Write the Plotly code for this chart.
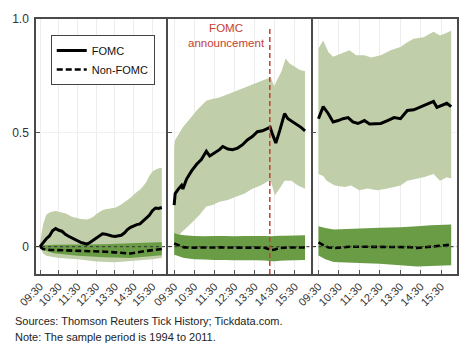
import pandas as pd
import plotly.graph_objects as go

# ---------------- data ----------------
GRID = ["09:30","09:40","09:50","10:00","10:10","10:20","10:30","10:40","10:50","11:00",
        "11:10","11:20","11:30","11:40","11:50","12:00","12:10","12:20","12:30","12:40",
        "12:50","13:00","13:10","13:20","13:30","13:40","13:50","14:00","14:10","14:20",
        "14:30","14:40","14:50","15:00","15:10","15:20","15:30","15:40","15:50","16:00"]
TICKS = ["09:30","10:30","11:30","12:30","13:30","14:30","15:30"]

# Panel 1 (day before)
p1_fomc_mean = [0.000,0.020,0.035,0.047,0.070,0.080,0.072,0.068,0.055,0.047,
                0.040,0.033,0.025,0.019,0.015,0.011,0.018,0.028,0.038,0.050,
                0.057,0.055,0.050,0.047,0.045,0.048,0.050,0.060,0.075,0.085,
                0.092,0.097,0.100,0.112,0.125,0.138,0.158,0.170,0.168,0.172]
p1_fomc_hi = [0.020,0.100,0.140,0.150,0.155,0.157,0.153,0.150,0.147,0.140,
              0.133,0.128,0.126,0.122,0.120,0.119,0.124,0.132,0.142,0.152,
              0.160,0.164,0.167,0.169,0.171,0.178,0.185,0.195,0.205,0.215,
              0.228,0.240,0.250,0.265,0.283,0.310,0.330,0.338,0.345,0.347]
p1_fomc_lo_t = ["09:30","09:40","09:50","10:30","11:30","12:30","13:30","14:30","15:30","16:00"]
p1_fomc_lo = [0.000,-0.030,-0.040,-0.050,-0.055,-0.065,-0.068,-0.062,-0.055,-0.050]
p1_non_t = ["09:30","09:40","10:00","10:30","11:00","11:30","12:00","12:30","13:00","13:30",
            "14:00","14:20","14:40","15:00","15:30","16:00"]
p1_non_mean = [0.000,-0.010,-0.014,-0.015,-0.018,-0.020,-0.020,-0.022,-0.022,-0.025,
               -0.028,-0.030,-0.025,-0.020,-0.015,-0.010]
p1_non_band_t = ["09:30","10:15","11:30","12:55","14:20","15:50","16:00"]
p1_non_hi = [0.005,0.008,0.010,0.011,0.015,0.019,0.019]
p1_non_lo = [-0.010,-0.029,-0.040,-0.046,-0.050,-0.039,-0.038]

# Panel 2 (announcement day)
p2_fomc_t = ["09:30","09:33","09:43","09:52","09:56","10:07","10:22","10:37","10:51","11:06",
             "11:16","11:31","11:45","11:55","12:10","12:24","12:39","12:54","13:08","13:23",
             "13:38","13:53","14:07","14:16","14:24","14:33","14:45","14:59","15:09","15:24",
             "15:38","15:48","16:00"]
p2_fomc_mean = [0.183,0.233,0.254,0.269,0.254,0.297,0.333,0.362,0.383,0.419,
                0.398,0.412,0.426,0.440,0.429,0.426,0.433,0.448,0.469,0.484,
                0.505,0.509,0.519,0.524,0.490,0.455,0.512,0.584,0.562,0.548,
                0.534,0.524,0.509]
p2_hi_t = ["09:30","09:33","09:57","10:17","10:37","10:56","11:06","11:20","11:45","12:10",
           "12:34","12:59","13:23","13:48","14:12","14:18","14:28","14:36","14:50","15:02",
           "15:14","15:29","15:43","16:00"]
p2_fomc_hi = [0.440,0.469,0.527,0.562,0.598,0.627,0.641,0.648,0.655,0.670,
              0.684,0.698,0.712,0.727,0.741,0.744,0.705,0.730,0.770,0.827,
              0.805,0.791,0.777,0.770]
p2_lo_t = ["09:30","09:50","10:07","10:27","10:46","11:06","11:25","11:45","12:10","12:34",
           "12:59","13:23","13:48","14:12","14:19","14:30","14:44","14:59","15:19","15:39","16:00"]
p2_fomc_lo = [0.020,0.060,0.083,0.112,0.140,0.176,0.183,0.197,0.205,0.219,
              0.233,0.254,0.269,0.290,0.283,0.226,0.254,0.290,0.290,0.269,0.254]
p2_non_t = ["09:30","09:40","09:50","10:00","10:30","11:00","11:30","12:00","12:30","13:00",
            "13:30","14:00","14:20","14:30","14:45","15:00","15:30","16:00"]
p2_non_mean = [0.014,0.008,0.000,-0.003,-0.004,-0.003,-0.004,-0.003,-0.004,-0.003,
               -0.004,-0.005,-0.015,-0.012,-0.006,-0.004,-0.003,-0.003]
p2_non_hi = [0.060,0.055,0.052,0.050,0.047,0.046,0.047,0.047,0.046,0.047,
             0.047,0.047,0.046,0.047,0.048,0.048,0.049,0.050]
p2_non_lo = [-0.035,-0.040,-0.045,-0.050,-0.055,-0.056,-0.058,-0.059,-0.060,-0.060,
             -0.060,-0.061,-0.064,-0.064,-0.062,-0.061,-0.060,-0.058]

# Panel 3 (day after)
p3_fomc_t = ["09:30","09:44","09:59","10:13","10:28","10:42","10:57","11:11","11:26","11:45",
             "12:00","12:14","12:33","12:53","13:12","13:31","13:51","14:10","14:29","14:49",
             "15:08","15:18","15:32","15:47","16:00"]
p3_fomc_mean = [0.562,0.615,0.584,0.548,0.554,0.562,0.567,0.548,0.541,0.554,
                0.539,0.539,0.541,0.554,0.567,0.562,0.598,0.601,0.612,0.627,
                0.638,0.612,0.620,0.630,0.615]
p3_hi_t = ["09:30","09:44","09:59","10:13","10:37","11:01","11:21","11:45","12:05","12:33",
           "13:02","13:31","13:51","14:10","14:39","15:08","15:27","15:47","16:00"]
p3_fomc_hi = [0.870,0.906,0.855,0.834,0.848,0.863,0.841,0.841,0.831,0.841,
              0.863,0.877,0.898,0.913,0.920,0.944,0.927,0.940,0.948]
p3_lo_t = ["09:30","09:44","09:54","10:18","10:47","11:06","11:30","11:54","12:23","12:53",
           "13:12","13:31","13:51","14:15","14:39","15:08","15:27","15:47","16:00"]
p3_fomc_lo = [0.319,0.310,0.290,0.269,0.262,0.269,0.248,0.255,0.248,0.255,
              0.262,0.269,0.290,0.297,0.305,0.319,0.290,0.305,0.300]
p3_non_t = ["09:30","09:40","10:00","10:20","11:00","12:00","13:00","14:00","14:20","15:00",
            "15:30","16:00"]
p3_non_mean = [0.019,0.010,-0.004,-0.006,0.000,0.000,-0.001,-0.002,-0.006,-0.001,0.002,0.009]
p3_non_band_t = ["09:30","09:50","10:15","11:30","12:30","13:30","14:20","15:00","16:00"]
p3_non_hi = [0.090,0.082,0.076,0.080,0.083,0.085,0.090,0.094,0.097]
p3_non_lo = [-0.039,-0.055,-0.067,-0.072,-0.075,-0.082,-0.087,-0.085,-0.082]

# ---------------- styling ----------------
LIGHT = "rgb(192,207,169)"
DARK = "rgb(106,156,70)"
RED = "rgb(196,62,52)"
FRAME = "#4a4a4a"
FONT = "Arial, Liberation Sans, sans-serif"


def ts(lst):
    return pd.to_datetime(["2000-01-01 " + t for t in lst])


def band(t_hi, hi, t_lo, lo, color, xa, ya):
    x = list(ts(t_hi)) + list(ts(t_lo))[::-1]
    y = list(hi) + list(lo)[::-1]
    return go.Scatter(x=x, y=y, fill="toself", fillcolor=color, mode="none",
                      line=dict(width=0), showlegend=False, hoverinfo="skip",
                      xaxis=xa, yaxis=ya)


fig = go.Figure()

panels = [
    dict(xa="x", ya="y",
         fb=(GRID, p1_fomc_hi, p1_fomc_lo_t, p1_fomc_lo),
         nb=(p1_non_band_t, p1_non_hi, p1_non_band_t, p1_non_lo),
         fm=(GRID, p1_fomc_mean), nm=(p1_non_t, p1_non_mean)),
    dict(xa="x2", ya="y2",
         fb=(p2_hi_t, p2_fomc_hi, p2_lo_t, p2_fomc_lo),
         nb=(p2_non_t, p2_non_hi, p2_non_t, p2_non_lo),
         fm=(p2_fomc_t, p2_fomc_mean), nm=(p2_non_t, p2_non_mean)),
    dict(xa="x3", ya="y3",
         fb=(p3_hi_t, p3_fomc_hi, p3_lo_t, p3_fomc_lo),
         nb=(p3_non_band_t, p3_non_hi, p3_non_band_t, p3_non_lo),
         fm=(p3_fomc_t, p3_fomc_mean), nm=(p3_non_t, p3_non_mean)),
]

for i, p in enumerate(panels):
    fig.add_trace(band(*p["fb"], LIGHT, p["xa"], p["ya"]))
    fig.add_trace(band(*p["nb"], DARK, p["xa"], p["ya"]))
    fig.add_trace(go.Scatter(x=ts(p["fm"][0]), y=p["fm"][1], mode="lines",
                             line=dict(color="black", width=3),
                             name="FOMC", showlegend=(i == 0),
                             xaxis=p["xa"], yaxis=p["ya"]))
    fig.add_trace(go.Scatter(x=ts(p["nm"][0]), y=p["nm"][1], mode="lines",
                             line=dict(color="black", width=2.6, dash="6px,3px"),
                             name="Non-FOMC", showlegend=(i == 0),
                             xaxis=p["xa"], yaxis=p["ya"]))

domains = [[0.0, 0.3099], [0.3146, 0.6526], [0.6572, 1.0]]
ranges = [["2000-01-01 09:17", "2000-01-01 16:15"],
          ["2000-01-01 09:13", "2000-01-01 16:17"],
          ["2000-01-01 09:13", "2000-01-01 16:17"]]
tickvals = list(ts(TICKS))
for i in range(3):
    sfx = "" if i == 0 else str(i + 1)
    fig.update_layout(**{
        "xaxis" + sfx: dict(domain=domains[i], range=ranges[i], anchor="y" + sfx,
                            type="date", tickvals=tickvals, ticktext=TICKS,
                            tickangle=-45, ticks="inside", ticklen=4, tickcolor="#555",
                            showline=True, mirror=True, linecolor=FRAME, linewidth=1.5,
                            showgrid=True, gridcolor="#ededed", gridwidth=1,
                            zeroline=False,
                            tickfont=dict(family=FONT, size=11, color="#333")),
        "yaxis" + sfx: dict(domain=[0, 1], range=[-0.12, 1.0], anchor="x" + sfx,
                            tickvals=[0, 0.5, 1.0], ticktext=["0", "0.5", "1.0"],
                            showticklabels=(i == 0), ticks="inside", ticklen=4,
                            tickcolor="#555",
                            showline=True, mirror=True, linecolor=FRAME, linewidth=1.5,
                            showgrid=True, gridcolor="#f1f1f1", zeroline=False,
                            ticklabelstandoff=3,
                            tickfont=dict(family=FONT, size=12, color="#333")),
    })
    fig.add_shape(type="line", xref="x" + sfx + " domain", yref="y" + sfx,
                  x0=0, x1=1, y0=0, y1=0, layer="above",
                  line=dict(color="#333", width=1, dash="dot"))

fig.add_shape(type="line", xref="x2", yref="y2",
              x0=pd.Timestamp("2000-01-01 14:15"), x1=pd.Timestamp("2000-01-01 14:15"),
              y0=-0.12, y1=0.96, layer="above",
              line=dict(color=RED, width=1.5, dash="5px,3px"))

fig.add_annotation(xref="x2", yref="y2", x=pd.Timestamp("2000-01-01 14:15"), y=0.995,
                   xanchor="right", yanchor="top", xshift=-3, showarrow=False,
                   align="center", text="FOMC<br>announcement",
                   font=dict(family=FONT, size=11.5, color=RED))

fig.add_annotation(xref="paper", yref="paper", x=-0.054, y=-0.183,
                   xanchor="left", yanchor="middle", showarrow=False,
                   text="Sources: Thomson Reuters Tick History; Tickdata.com.",
                   font=dict(family=FONT, size=11, color="#222"))
fig.add_annotation(xref="paper", yref="paper", x=-0.054, y=-0.246,
                   xanchor="left", yanchor="middle", showarrow=False,
                   text="Note: The sample period is 1994 to 2011.",
                   font=dict(family=FONT, size=11, color="#222"))

fig.update_layout(
    width=475, height=351,
    margin=dict(l=31, r=18, t=12, b=77),
    paper_bgcolor="white", plot_bgcolor="white",
    font=dict(family=FONT, size=11, color="#222"),
    showlegend=True,
    legend=dict(x=0.035, y=0.937, xanchor="left", yanchor="top",
                bgcolor="white", bordercolor="#444", borderwidth=1,
                font=dict(family=FONT, size=11, color="#111"),
                itemwidth=30, tracegroupgap=0),
)

fig.write_html("out.html")
